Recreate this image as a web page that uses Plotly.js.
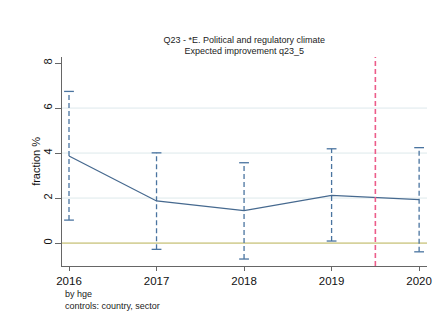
<!DOCTYPE html>
<html>
<head>
<meta charset="utf-8">
<script src="https://cdn.plot.ly/plotly-3.0.1.min.js"></script>
<style>html,body{margin:0;padding:0;background:#fff}#chart{width:444px;height:329px}</style>
</head>
<body>
<div id="chart"></div>
<script>
const years = [2016, 2017, 2018, 2019, 2020];
const meanVals = [3.87, 1.87, 1.44, 2.12, 1.93];
const upperVals = [6.74, 4.01, 3.57, 4.19, 4.24];
const lowerVals = [1.02, -0.28, -0.71, 0.09, -0.39];
const xTickLabels = ['2016', '2017', '2018', '2019', '2020'];
const yTickVals = [0, 2, 4, 6, 8];
const gridVals = [2, 4, 6];
const refYear = 2019.5;
const titleLines = ['Q23 - *E. Political and regulatory climate', 'Expected improvement q23_5'];
const yTitle = 'fraction %';
const noteLines = ['by hge', 'controls: country, sector'];

const lineColor = '#46698f';
const ciColor = '#4a74a0';
const font = 'Liberation Sans, Arial, sans-serif';

// CI segments
const segX = [], segY = [];
years.forEach((yr, i) => { segX.push(yr, yr, null); segY.push(lowerVals[i], upperVals[i], null); });

const traces = [
  {x: segX, y: segY, mode: 'lines', line: {color: ciColor, width: 1.3, dash: '5px,3px'}, hoverinfo: 'skip', showlegend: false},
  {x: years.concat(years), y: upperVals.concat(lowerVals), mode: 'markers',
   marker: {symbol: 'line-ew', size: 7, line: {color: ciColor, width: 1.3}}, hoverinfo: 'skip', showlegend: false},
  {x: years, y: meanVals, mode: 'lines', line: {color: lineColor, width: 1.3}, showlegend: false}
];

const shapes = gridVals.map(v => ({type: 'line', xref: 'paper', x0: 0, x1: 1, yref: 'y', y0: v, y1: v,
  line: {color: '#dde9ec', width: 1}, layer: 'below'}));
shapes.push({type: 'line', xref: 'paper', x0: 0, x1: 1, yref: 'y', y0: 0, y1: 0, line: {color: '#d6d29c', width: 1.8}, layer: 'below'});
shapes.push({type: 'line', xref: 'x', x0: refYear, x1: refYear, yref: 'paper', y0: 0, y1: 1,
  line: {color: '#ec5d8a', width: 1.6, dash: '5px,3px'}});

const layout = {
  width: 444, height: 329,
  margin: {l: 62, r: 17, t: 57, b: 63},
  paper_bgcolor: '#ffffff', plot_bgcolor: '#ffffff',
  font: {family: font, color: '#222', size: 11},
  title: {text: titleLines.join('<br>'), x: 0.55, xanchor: 'center', y: 0.870, yanchor: 'middle',
    font: {family: font, size: 9, color: '#222'}},
  xaxis: {range: [2015.92, 2020.09], tickvals: years, ticktext: xTickLabels, showgrid: false, zeroline: false,
    showline: true, linecolor: '#666', linewidth: 1, ticks: 'outside', ticklen: 4, tickcolor: '#666',
    tickfont: {size: 11.5, color: '#111'}},
  yaxis: {range: [-1.02, 8.27], tickvals: yTickVals, showgrid: false, zeroline: false,
    showline: true, linecolor: '#666', linewidth: 1, ticks: 'outside', ticklen: 6, tickcolor: '#666',
    tickangle: -90, ticklabelstandoff: -1, tickfont: {size: 11, color: '#111'}},
  shapes: shapes,
  annotations: [
    {text: yTitle, xref: 'paper', yref: 'paper', x: -0.073, y: 0.5, xanchor: 'center', yanchor: 'middle',
     textangle: -90, showarrow: false, font: {size: 11, color: '#111'}},
    {text: noteLines.join('<br>'), xref: 'paper', yref: 'paper', x: 0.003, y: -0.1, xanchor: 'left', yanchor: 'top',
    align: 'left', showarrow: false, font: {size: 9, color: '#222'}}]
};
Plotly.newPlot('chart', traces, layout, {displayModeBar: false, staticPlot: true});
</script>
</body>
</html>
